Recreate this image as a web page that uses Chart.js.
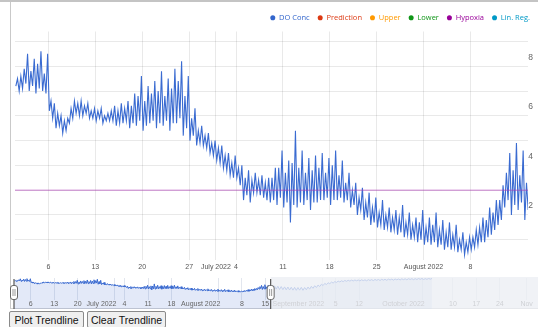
<!DOCTYPE html>
<html>
<head>
<meta charset="utf-8">
<script src="https://cdn.jsdelivr.net/npm/chart.js@4.4.1/dist/chart.umd.min.js"></script>
<style>
  body { margin: 0; background: #fff; font-family: Arial, "Liberation Sans", sans-serif; }
  #wrap { position: relative; width: 538px; height: 327px; overflow: hidden; }
  #topLine { position: absolute; left: 0; top: 0; width: 538px; height: 2px; background: #c4c4c4; }
  #frame { position: absolute; left: 10px; top: 2px; width: 528px; height: 306px;
           border-left: 1px solid #c9c9c9; border-bottom: 1px solid #d2d2d2; }
  #mainChart { position: absolute; left: 0; top: 3px; }
  #rangeChart { position: absolute; left: 0; top: 277px; }
  .btn { position: absolute; top: 311px; height: 17px; box-sizing: border-box; padding: 0; white-space: nowrap;
         line-height: 15px; font: 10.5px Arial, "Liberation Sans", sans-serif; text-align: center;
         color: #111; background: #efefef; border: 1px solid #8a8a8a; border-radius: 2px; }
</style>
</head>
<body>
<div id="wrap">
  <div id="topLine"></div>
  <div id="frame"></div>
  <canvas id="mainChart" width="538" height="271"></canvas>
  <canvas id="rangeChart" width="538" height="32"></canvas>
  <button class="btn" style="left:9px;width:75px">Plot Trendline</button>
  <button class="btn" style="left:87px;width:79px">Clear Trendline</button>
</div>
<script>
// x values are days since 1 June 2022; four readings per day (two tidal lows and highs)
const firstSample = 0.125;
const sampleStep = 0.25;

// DO concentration, 1 Jun - 15 Aug
const doConc = [
  7.2, 7.5, 7.0, 7.6,  7.1, 7.9, 7.3, 8.5,  7.0, 7.8, 7.2, 8.3,  6.9, 8.1, 7.1, 8.6,  7.0, 7.7, 6.9, 8.5,
  6.2, 6.6, 5.9, 6.5,  5.5, 6.1, 5.6, 6.0,  5.3, 5.8, 5.4, 5.9,  5.7, 6.3, 5.9, 6.6,  6.1, 6.5, 6.0, 6.6,
  6.0, 6.4, 6.1, 6.5,  5.9, 6.2, 5.9, 6.3,  5.8, 6.2, 5.9, 6.3,  5.7, 6.0, 5.8, 6.1,  5.8, 6.2, 5.8, 6.4,
  5.6, 6.2, 5.7, 6.5,  5.7, 6.3, 5.8, 6.6,  5.5, 6.4, 5.7, 6.9,  5.6, 6.8, 5.8, 7.6,  5.4, 6.6, 5.6, 7.2,
  5.7, 6.9, 5.8, 7.4,  5.5, 7.0, 5.7, 7.8,  5.6, 6.8, 5.8, 7.5,  5.4, 7.1, 5.7, 7.9,  5.7, 7.4, 5.9, 8.2,
  5.2, 6.8, 5.5, 7.6,  5.0, 5.9, 5.2, 6.3,  4.8, 5.4, 4.9, 5.6,  4.8, 5.2, 4.7, 5.3,  4.5, 4.9, 4.4, 5.0,
  4.2, 4.7, 4.1, 4.8,  3.9, 4.4, 3.8, 4.5,  3.6, 4.1, 3.5, 4.4,  3.5, 3.9, 3.2, 4.0,  2.6, 3.5, 2.8, 3.8,
  2.5, 3.4, 2.9, 3.7,  2.9, 3.4, 2.8, 3.6,  2.7, 3.3, 2.6, 3.5,  2.5, 3.5, 2.6, 3.9,  2.4, 3.9, 2.7, 4.6,
  2.3, 3.7, 2.5, 4.2,  1.7, 4.1, 2.4, 5.4,  2.3, 3.9, 2.5, 4.6,  2.4, 3.7, 2.6, 4.3,  2.2, 3.8, 2.5, 4.4,
  2.5, 3.9, 2.6, 4.5,  2.6, 3.7, 2.7, 4.3,  2.4, 4.0, 2.6, 4.6,  2.6, 3.6, 2.7, 4.2,  2.5, 3.3, 2.6, 3.7,
  2.3, 3.0, 2.4, 3.3,  2.0, 2.7, 2.2, 3.1,  1.8, 2.5, 1.9, 2.9,  1.6, 2.3, 1.7, 2.7,  1.5, 2.1, 1.6, 2.6,
  1.4, 2.0, 1.5, 2.3,  1.3, 1.9, 1.4, 2.2,  1.2, 1.9, 1.3, 2.4,  1.1, 1.7, 1.2, 2.1,  1.0, 1.6, 1.1, 1.9,
  0.9, 1.7, 1.0, 2.2,  0.8, 1.5, 0.9, 1.9,  0.8, 1.6, 0.9, 2.1,  0.7, 1.4, 0.8, 1.8,  0.6, 1.3, 0.7, 1.7,
  0.6, 1.2, 0.7, 1.6,  0.5, 1.0, 0.6, 1.3,  0.4, 0.9, 0.5, 1.1,  0.6, 1.1, 0.7, 1.4,  0.8, 1.5, 0.9, 1.9,
  0.9, 1.8, 1.1, 2.3,  1.2, 2.1, 1.4, 2.6,  1.6, 2.6, 1.8, 3.2,  2.3, 3.7, 2.6, 4.5,  2.0, 3.8, 2.4, 4.9,
  2.2, 3.6, 2.5, 4.6,  1.8, 3.3, 2.2, 4.2
];

// later readings, 16 Aug - early Oct, only visible in the range selector (two per day)
const laterStart = 77.25;
const laterStep = 0.5;
const doConcLater = [
  2.4, 4.2, 2.2, 4.0, 2.0, 3.8, 1.9, 3.6, 1.8, 3.5,
  1.7, 3.4, 1.6, 3.3, 1.5, 3.2, 1.6, 3.3, 1.5, 3.2,
  1.8, 3.5, 2.2, 3.9, 2.7, 4.3, 3.2, 4.7, 3.8, 5.2,
  4.4, 5.7, 5.0, 6.1, 5.5, 6.5, 5.9, 6.8, 6.3, 7.1,
  6.6, 7.3, 6.8, 7.5, 7.0, 7.6, 7.1, 7.7, 7.2, 7.8,
  7.3, 7.8, 7.2, 7.9, 7.4, 7.9, 7.3, 8.0, 7.5, 8.0,
  7.4, 8.1, 7.6, 8.1, 7.5, 8.2, 7.7, 8.2, 7.6, 8.3,
  7.8, 8.3, 7.7, 8.4, 7.9, 8.4, 7.8, 8.5, 8.0, 8.5,
  7.9, 8.6, 8.1, 8.6, 8.0, 8.6, 8.1, 8.7, 8.2, 8.7,
  8.1, 8.6, 8.2, 8.7, 8.3, 8.7
];

const hypoxiaLevel = 3;
const viewStart = 0;
const viewEnd = 76.6;

const mainTickDays = [5, 12, 19, 26, 30, 33, 40, 47, 54, 61, 68];
const mainTickLabels = ['6', '13', '20', '27', 'July 2022', '4', '11', '18', '25', 'August 2022', '8'];
const yGridValues = [1, 2, 3, 4, 5, 6, 7, 8, 9];
const yLabelValues = [2, 4, 6, 8];

const rangeTickDays = [5, 12, 19, 30, 33, 40, 47, 61, 68, 75, 92, 96, 103, 122, 131, 138, 145, 153];
const rangeTickLabels = ['6', '13', '20', 'July 2022', '4', '11', '18', 'August 2022', '8', '15',
  'September 2022', '5', '12', 'October 2022', '10', '17', '24', 'Nov'];

const seriesNames = ['DO Conc', 'Prediction', 'Upper', 'Lower', 'Hypoxia', 'Lin. Reg.'];
const seriesColors = ['#3366cc', '#dc3912', '#ff9900', '#109618', '#990099', '#0099c6'];

const doPoints = doConc.map((v, i) => ({ x: firstSample + i * sampleStep, y: v }));
const laterPoints = doConcLater.map((v, i) => ({ x: laterStart + i * laterStep, y: v }));
const hypoxiaPoints = [{ x: viewStart, y: hypoxiaLevel }, { x: viewEnd, y: hypoxiaLevel }];

const gridColor = 'rgba(0,0,0,0.085)';

const mainDatasets = seriesNames.map((name, i) => ({
  label: name,
  data: [],
  borderColor: seriesColors[i],
  borderWidth: 1,
  pointRadius: 0
}));
mainDatasets[0].data = doPoints;
mainDatasets[0].borderColor = '#3a6bd1';
mainDatasets[0].borderWidth = 1.1;
mainDatasets[4].data = hypoxiaPoints;
mainDatasets[4].borderColor = 'rgba(175,60,185,0.65)';
mainDatasets[4].order = -1;

new Chart(document.getElementById('mainChart'), {
  type: 'line',
  data: { datasets: mainDatasets },
  options: {
    responsive: false,
    animation: false,
    events: [],
    layout: { padding: { left: 15, top: 3, right: 0, bottom: 0 } },
    plugins: {
      tooltip: { enabled: false },
      legend: {
        position: 'top',
        align: 'end',
        labels: {
          usePointStyle: true,
          pointStyleWidth: 5,
          boxHeight: 3.6,
          padding: 8,
          font: { family: '"Open Sans", sans-serif', size: 7.5 },
          generateLabels: chart => chart.data.datasets.map((ds, i) => ({
            text: ds.label,
            fillStyle: seriesColors[i],
            strokeStyle: seriesColors[i],
            fontColor: seriesColors[i],
            lineWidth: 0,
            pointStyle: 'circle',
            hidden: false,
            datasetIndex: i
          }))
        }
      }
    },
    scales: {
      x: {
        type: 'linear',
        min: viewStart,
        max: viewEnd,
        afterBuildTicks: s => { s.ticks = mainTickDays.map(v => ({ value: v })); },
        ticks: {
          autoSkip: false,
          maxRotation: 0,
          padding: 3,
          color: '#555',
          font: { family: 'Arial, "Liberation Sans", sans-serif', size: 7 },
          callback: (v, i) => mainTickLabels[i]
        },
        grid: { color: gridColor, drawTicks: false },
        border: { display: false }
      },
      y: {
        position: 'right',
        min: 0.2,
        max: 9.4,
        afterBuildTicks: s => { s.ticks = yGridValues.map(v => ({ value: v })); },
        ticks: {
          mirror: true,
          padding: 5,
          labelOffset: -9,
          color: '#666',
          font: { family: 'Arial, "Liberation Sans", sans-serif', size: 8.5 },
          callback: v => yLabelValues.includes(v) ? String(v) : ''
        },
        grid: { color: gridColor, drawTicks: false },
        border: { display: false }
      }
    }
  }
});

// range selector: label band, tick labels, dimmed unselected part and the two handles
const areaFill = 'rgba(80,120,210,0.16)';
const rangeSelector = {
  id: 'rangeSelector',
  beforeDraw(chart) {
    const { ctx, chartArea, scales: { x } } = chart;
    const xEnd = x.getPixelForValue(laterStart + (doConcLater.length - 1) * laterStep);
    ctx.save();
    ctx.fillStyle = areaFill;
    ctx.fillRect(chartArea.left, chartArea.bottom, xEnd - chartArea.left, chart.height - chartArea.bottom);
    ctx.restore();
  },
  afterDraw(chart) {
    const { ctx, chartArea, scales: { x } } = chart;
    ctx.save();
    ctx.font = '7px Arial, "Liberation Sans", sans-serif';
    ctx.fillStyle = '#666';
    ctx.textBaseline = 'middle';
    rangeTickDays.forEach((d, i) => {
      const px = x.getPixelForValue(d);
      const txt = rangeTickLabels[i];
      if (txt.includes(' ')) { ctx.textAlign = 'right'; ctx.fillText(txt, px + 2, chartArea.bottom + 4.5); }
      else { ctx.textAlign = 'center'; ctx.fillText(txt, px, chartArea.bottom + 4.5); }
    });

    const xs = x.getPixelForValue(viewStart);
    const xe = x.getPixelForValue(viewEnd);
    ctx.fillStyle = 'rgba(236,238,244,0.78)';
    ctx.fillRect(xe, chartArea.top - 1, chart.width - xe, chart.height - chartArea.top + 1);

    [xs, xe].forEach(px => {
      ctx.strokeStyle = '#555';
      ctx.lineWidth = 1.2;
      ctx.beginPath();
      ctx.moveTo(px, chartArea.top + 1);
      ctx.lineTo(px, chart.height);
      ctx.stroke();
      ctx.beginPath();
      ctx.roundRect(px - 3.5, 8.5, 7, 14, 2.5);
      ctx.fillStyle = '#fff';
      ctx.fill();
      ctx.strokeStyle = '#666';
      ctx.lineWidth = 1;
      ctx.stroke();
      ctx.strokeStyle = '#999';
      ctx.beginPath();
      ctx.moveTo(px - 1, 12); ctx.lineTo(px - 1, 19);
      ctx.moveTo(px + 1, 12); ctx.lineTo(px + 1, 19);
      ctx.stroke();
    });
    ctx.restore();
  }
};

const miniStyle = { borderColor: '#3a6ad0', borderWidth: 1, pointRadius: 0, fill: 'start', backgroundColor: areaFill };

new Chart(document.getElementById('rangeChart'), {
  type: 'line',
  data: {
    datasets: [
      { label: 'DO Conc', data: doPoints, ...miniStyle },
      { label: 'DO Conc later', data: laterPoints, ...miniStyle }
    ]
  },
  options: {
    responsive: false,
    animation: false,
    events: [],
    layout: { padding: { left: 14, right: 2, top: 1, bottom: 9 } },
    plugins: { legend: { display: false }, tooltip: { enabled: false } },
    scales: {
      x: {
        type: 'linear',
        min: 0,
        max: 155.8,
        afterBuildTicks: s => { s.ticks = rangeTickDays.map(v => ({ value: v })); },
        ticks: { display: false },
        grid: { color: '#e2e6ee', drawTicks: false },
        border: { display: false }
      },
      y: { min: -4.4, max: 9.0, display: false }
    }
  },
  plugins: [rangeSelector]
});
</script>
</body>
</html>
